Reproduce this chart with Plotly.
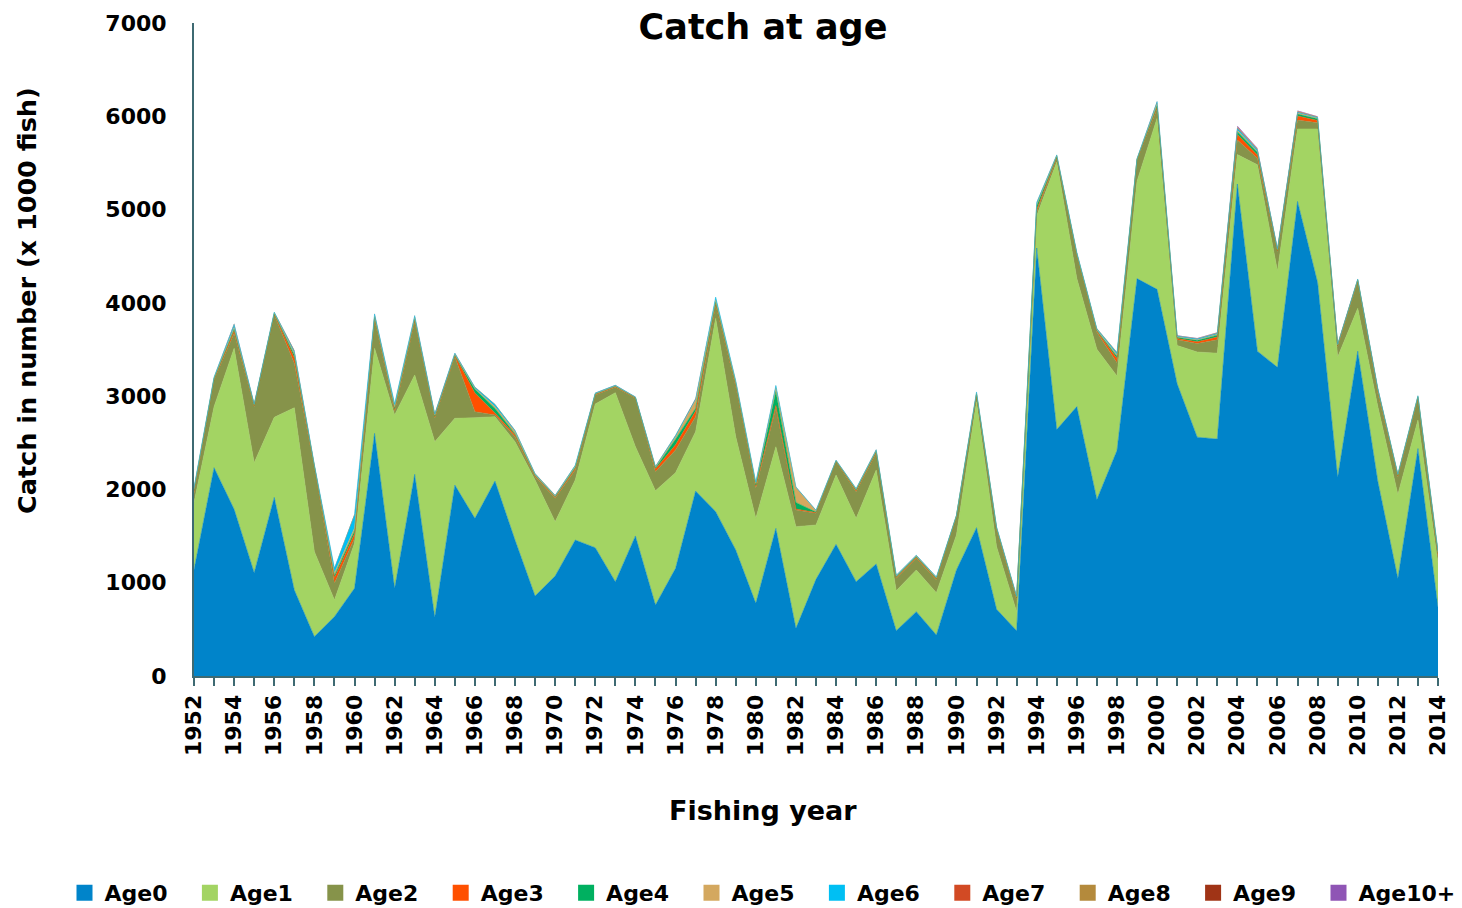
import plotly.graph_objects as go

years = list(range(1952, 2015))

age0 = [1140, 2233, 1787, 1108, 1915, 922, 422, 636, 940, 2601, 940, 2162, 629, 2047, 1690, 2090,
        1458, 858, 1072, 1458, 1375, 1011, 1501, 761, 1154, 1983, 1762, 1351, 779, 1583, 511, 1036,
        1412, 1011, 1201, 486, 690, 440, 1136, 1590, 715, 486, 4588, 2642, 2888, 1893, 2417, 4260,
        4145, 3133, 2560, 2540, 5274, 3482, 3309, 5087, 4218, 2130, 3482, 2089, 1045, 2438, 738]
age1 = [720, 654, 1726, 1179, 858, 1954, 911, 179, 482, 912, 1858, 1065, 1883, 715, 1079, 690,
        1054, 1243, 582, 643, 1541, 2026, 957, 1225, 1026, 636, 2072, 1214, 911, 875, 1090, 583,
        743, 679, 1007, 429, 446, 453, 375, 1350, 671, 204, 347, 2867, 1372, 1609, 799, 1044,
        1835, 410, 913, 921, 316, 1998, 1033, 778, 1647, 1290, 459, 799, 901, 306, 471]
age2 = [100, 286, 161, 600, 1097, 476, 897, 179, 54, 303, 35, 571, 250, 661, 64, 18,
        53, 36, 251, 107, 96, 58, 519, 204, 243, 161, 143, 536, 322, 411, 179, 125,
        142, 286, 179, 132, 126, 136, 197, 60, 179, 125, 41, 41, 245, 184, 143, 225,
        102, 61, 90, 143, 155, 70, 204, 94, 65, 103, 286, 144, 184, 225, 61]
age3 = [20, 10, 30, 10, 10, 60, 12, 60, 50, 20, 25, 20, 15, 12, 200, 20,
        20, 10, 12, 20, 8, 8, 5, 30, 55, 60, 20, 20, 25, 30, 10, 8,
        5, 12, 15, 10, 10, 10, 5, 15, 15, 20, 25, 12, 12, 12, 45, 6,
        20, 15, 20, 30, 60, 35, 12, 45, 25, 15, 12, 25, 15, 15, 35]
age4 = [10, 5, 15, 5, 5, 30, 6, 20, 30, 10, 10, 10, 8, 6, 40, 50,
        10, 5, 5, 8, 4, 4, 3, 10, 60, 30, 15, 10, 10, 150, 70, 5,
        3, 6, 6, 8, 8, 8, 3, 8, 5, 5, 40, 6, 6, 6, 20, 4,
        10, 12, 15, 20, 30, 30, 6, 20, 18, 5, 5, 8, 6, 6, 10]
age5 = [15, 8, 20, 8, 8, 20, 8, 30, 30, 15, 20, 15, 12, 10, 10, 20,
        25, 8, 8, 12, 5, 5, 3, 10, 25, 90, 20, 20, 20, 40, 160, 15,
        5, 8, 10, 8, 8, 8, 4, 12, 8, 10, 15, 12, 8, 8, 20, 4,
        30, 6, 6, 10, 15, 10, 8, 10, 8, 8, 6, 10, 8, 8, 15]
age6 = [15, 8, 30, 8, 8, 20, 8, 50, 140, 20, 30, 20, 12, 10, 12, 22,
        12, 8, 6, 10, 5, 5, 4, 6, 15, 10, 30, 15, 12, 25, 5, 5,
        4, 7, 8, 7, 6, 7, 4, 10, 5, 6, 20, 6, 10, 10, 20, 4,
        15, 8, 10, 10, 20, 15, 8, 10, 8, 6, 5, 10, 6, 6, 12]
age7 = [5, 2, 5, 2, 2, 6, 3, 3, 6, 4, 3, 4, 4, 3, 3, 3,
        3, 3, 2, 2, 2, 2, 1, 2, 3, 4, 2, 2, 2, 3, 3, 2,
        1, 2, 2, 2, 2, 2, 1, 3, 2, 2, 2, 2, 3, 3, 5, 1,
        3, 3, 4, 4, 8, 6, 3, 5, 4, 3, 3, 4, 3, 3, 5]
age8 = [3, 2, 4, 2, 2, 4, 2, 2, 5, 2, 2, 2, 2, 2, 2, 2,
        2, 2, 2, 2, 1, 1, 1, 2, 2, 2, 2, 2, 2, 2, 2, 1,
        1, 1, 2, 1, 1, 1, 1, 2, 1, 2, 2, 2, 2, 2, 3, 1,
        2, 2, 2, 3, 6, 5, 2, 4, 3, 2, 2, 2, 2, 2, 3]
age9 = [1, 0, 2, 1, 1, 2, 1, 1, 2, 1, 0, 1, 1, 0, 1, 1,
        0, 0, 0, 0, 0, 0, 0, 0, 1, 1, 0, 0, 0, 1, 0, 0,
        0, 0, 0, 0, 0, 0, 0, 0, 0, 0, 1, 0, 0, 0, 1, 1,
        1, 1, 1, 2, 5, 4, 1, 3, 2, 1, 0, 1, 1, 1, 1]
age10 = [1, 1, 1, 0, 0, 1, 0, 0, 1, 0, 0, 0, 0, 0, 0, 0,
         0, 0, 0, 0, 0, 0, 0, 0, 0, 0, 0, 0, 0, 0, 0, 0,
         0, 0, 0, 0, 0, 0, 0, 0, 0, 0, 0, 0, 0, 0, 0, 0,
         1, 2, 3, 3, 9, 5, 2, 5, 2, 0, 0, 1, 0, 0, 1]

series_names = ["Age0", "Age1", "Age2", "Age3", "Age4", "Age5", "Age6", "Age7", "Age8", "Age9", "Age10+"]
series_values = [age0, age1, age2, age3, age4, age5, age6, age7, age8, age9, age10]
colors = ["#0084CA", "#A3D463", "#86934A", "#FF5000", "#00B060", "#D4A85F",
          "#00BFF3", "#D24A24", "#B48A3C", "#A03416", "#8F55B5"]
line_widths = [0.5, 0.5, 0.5, 0.5, 0.5, 0.5, 0.5, 0, 0, 0, 0]

FONT = "DejaVu Sans"
# the page body has an 8px margin; the figure is sized/positioned to compensate
OFF = 8
W, H = 1454, 900
L, T = 194 - OFF, 23 - OFF
R, B = W - (1438 - OFF), H - (676 - OFF)
PW, PH = W - L - R, H - T - B


def px_x(x):  # window pixel -> paper fraction (x)
    return (x - OFF - L) / PW


def px_y(y):  # window pixel -> paper fraction (y)
    return (H - B - (y - OFF)) / PH


fig = go.Figure()
for name, vals, col, lw in zip(series_names, series_values, colors, line_widths):
    fig.add_trace(go.Scatter(
        x=years, y=vals, name=name, stackgroup="one", mode="lines",
        line=dict(color=col, width=lw), fillcolor=col, showlegend=False,
        legendgroup=name, hoverinfo="x+y+name"))
for i, (name, col) in enumerate(zip(series_names, colors)):
    fig.add_trace(go.Scatter(
        x=[None], y=[None], name="<b>" + name + "</b>", mode="markers", legendgroup=name,
        legend="legend2" if i == len(series_names) - 1 else "legend",
        marker=dict(symbol="square", size=16, color=col), showlegend=True))

axis_col = "#3E6A72"
leg_font = dict(family=FONT, size=22, color="black")
fig.update_layout(
    width=W, height=H,
    paper_bgcolor="white", plot_bgcolor="white",
    margin=dict(l=L, r=R, t=T, b=B, autoexpand=False),
    font=dict(family=FONT, size=22, color="black"),
    title=dict(text="<b>Catch at age</b>", xref="container", x=(763 - OFF) / W, xanchor="center",
               yref="container", y=1 - (27 - OFF) / H, yanchor="middle",
               font=dict(family=FONT, size=35, color="black")),
    xaxis=dict(range=[1952, 2014], tickmode="linear", tick0=1952, dtick=2,
               tickangle=-90, showline=True, linecolor=axis_col, linewidth=2,
               ticks="outside", ticklen=8, tickcolor=axis_col, tickwidth=2,
               minor=dict(dtick=1, ticks="outside", ticklen=8, tickcolor=axis_col, tickwidth=2),
               showgrid=False, zeroline=False, automargin=False,
               tickfont=dict(family=FONT, size=22, color="black"),
               tickprefix="<b>", ticksuffix="</b>"),
    yaxis=dict(range=[0, 7000], tickmode="linear", tick0=0, dtick=1000,
               showline=True, linecolor=axis_col, linewidth=2, ticks="",
               showgrid=False, zeroline=False, ticklabelstandoff=21, automargin=False,
               tickfont=dict(family=FONT, size=22, color="black"),
               tickprefix="<b>", ticksuffix="</b>"),
    legend=dict(orientation="h", xref="paper", yref="paper",
                x=px_x(64.5), xanchor="left", y=px_y(893), yanchor="middle",
                entrywidth=80.4, entrywidthmode="pixels", itemwidth=30,
                font=leg_font, bgcolor="rgba(0,0,0,0)"),
    legend2=dict(orientation="h", xref="paper", yref="paper",
                 x=px_x(1318.5), xanchor="left", y=px_y(893), yanchor="middle",
                 itemwidth=30, font=leg_font, bgcolor="rgba(0,0,0,0)"),
    annotations=[
        dict(text="<b>Fishing year</b>", xref="paper", yref="paper",
             x=px_x(763), y=px_y(810), xanchor="center", yanchor="middle",
             showarrow=False, font=dict(family=FONT, size=27, color="black")),
        dict(text="<b>Catch in number (x 1000 fish)</b>", xref="paper", yref="paper",
             x=px_x(27), y=px_y(301), xanchor="center", yanchor="middle",
             textangle=-90, showarrow=False, font=dict(family=FONT, size=25.5, color="black")),
    ],
)

fig.write_html("out.html")
